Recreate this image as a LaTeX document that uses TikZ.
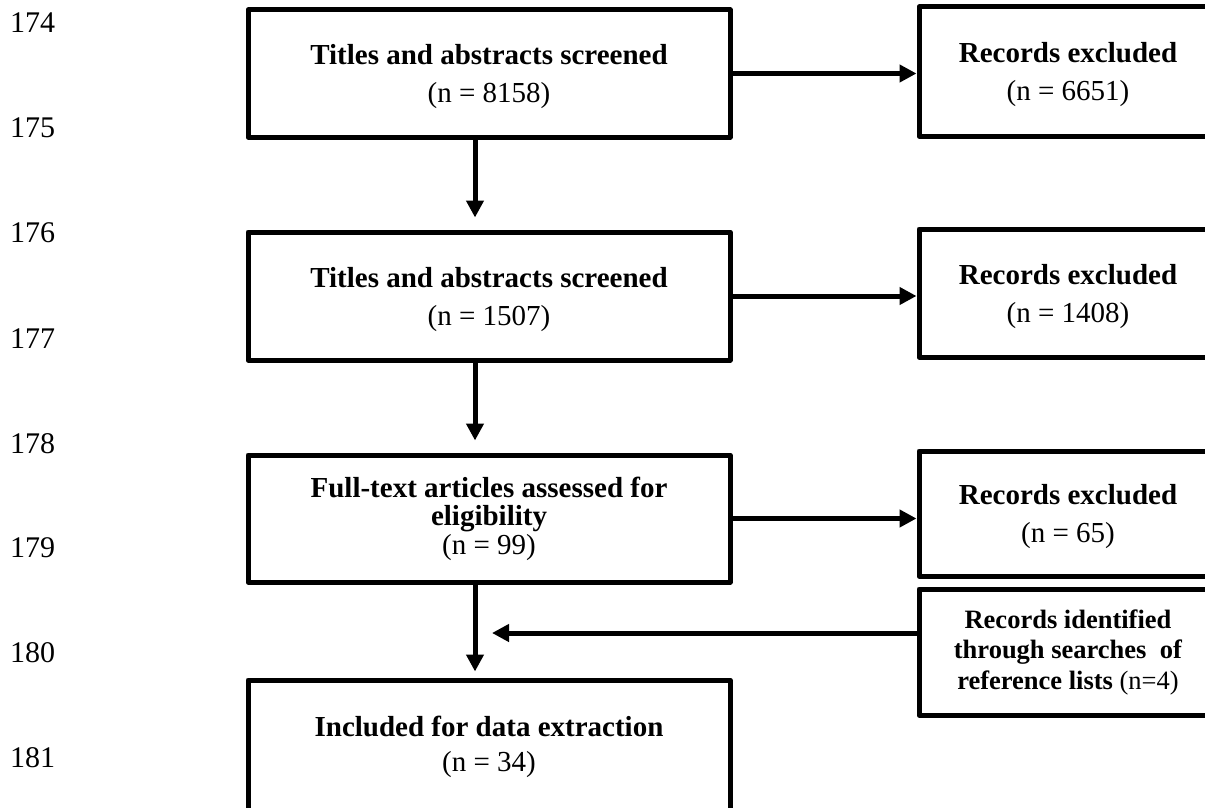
\documentclass[tikz,border=0pt]{standalone}
\usepackage{fontspec}
\setmainfont{Liberation Serif}
\usetikzlibrary{arrows.meta}
\newcommand{\toplift}{\rule{0pt}{27pt}}
\begin{document}
\begin{tikzpicture}[x=1pt,y=-1pt,
  box/.style={draw, line width=5pt, line join=round, align=center, inner sep=0pt,
    font=\fontsize{29}{38}\selectfont},
  lbox/.style={box, minimum width=482pt},
  rbox/.style={box, minimum width=298pt},
  arr/.style={line width=5pt, -{Triangle[length=17pt,width=17pt]}},
  lnum/.style={anchor=base west, inner sep=0pt, font=\fontsize{30}{34}\selectfont}]
\useasboundingbox (0,0) rectangle (1205,808);
\clip (0,0) rectangle (1205,808);
% line numbers
\node[lnum] (l174) at (10,33) {174};
\node[lnum] (l175) at (10,137) {175};
\node[lnum] (l176) at (10,242) {176};
\node[lnum] (l177) at (10,348) {177};
\node[lnum] (l178) at (10,453) {178};
\node[lnum] (l179) at (10,557) {179};
\node[lnum] (l180) at (10,662) {180};
\node[lnum] (l181) at (10,767) {181};
% left column
\node[lbox, minimum height=127pt] (b1) at (489,73.5) {\toplift\textbf{Titles and abstracts screened}\\(n = 8158)};
\node[lbox, minimum height=128pt] (b2) at (489,296) {\toplift\textbf{Titles and abstracts screened}\\(n = 1507)};
\node[lbox, minimum height=127pt, font=\fontsize{29}{28.5}\selectfont] (b3) at (489,518.5) {\textbf{Full-text articles assessed for}\\\textbf{eligibility}\\(n = 99)};
\node[lbox, minimum height=134pt, font=\fontsize{29}{35}\selectfont] (b4) at (489,747) {\textbf{Included for data extraction}\\(n = 34)};
% right column
\node[rbox, minimum height=129pt] (r1) at (1068,71.5) {\toplift\textbf{Records excluded}\\(n = 6651)};
\node[rbox, minimum height=128pt] (r2) at (1068,293) {\toplift\textbf{Records excluded}\\(n = 1408)};
\node[rbox, minimum height=125pt] (r3) at (1068,513.5) {\toplift\textbf{Records excluded}\\(n = 65)};
\node[rbox, minimum height=126pt, font=\fontsize{26.5}{30.5}\selectfont] (r4) at (1068,652) {\textbf{Records identified}\\\textbf{through searches\ \ of}\\\textbf{reference lists} (n=4)};
% connectors
\coordinate (xa) at (475,0);
\coordinate (m) at (475,633);
\draw[arr] (b1.east) -- (b1.east -| r1.west);
\draw[arr] (b2.east) -- (b2.east -| r2.west);
\draw[arr] (b3.east) -- (b3.east -| r3.west);
\draw[arr, shorten >=12pt] (xa |- b1.south) -- (xa |- b2.north);
\draw[arr, shorten >=12pt] (xa |- b2.south) -- (xa |- b3.north);
\draw[arr, shorten >=6pt] (xa |- b3.south) -- (xa |- b4.north);
\draw[arr, shorten >=17pt] (r4.west |- m) -- (m);
\end{tikzpicture}
\end{document}
